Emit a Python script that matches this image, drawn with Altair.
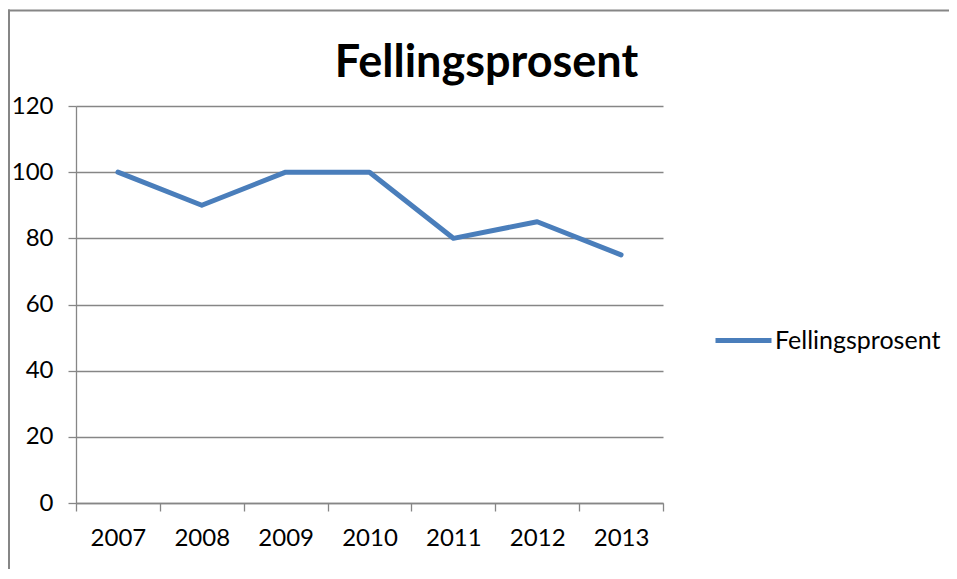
import altair as alt
import pandas as pd

years = ["2007", "2008", "2009", "2010", "2011", "2012", "2013"]
values = [100, 90, 100, 100, 80, 85, 75]
series_name = "Fellingsprosent"
y_ticks = [0, 20, 40, 60, 80, 100, 120]
title_text = "Fellingsprosent"

df = pd.DataFrame({"year": years, "value": values, "series": [series_name] * len(years)})

GRAY = "#868686"
FONT = "Lato"

line = alt.Chart(df).mark_line(strokeWidth=5, strokeCap="round", strokeJoin="round").encode(
    x=alt.X(
        "year:O",
        bandPosition=0.5,
        scale=alt.Scale(type="band", paddingInner=0, paddingOuter=0),
        axis=alt.Axis(
            title=None, labelAngle=0, tickBand="extent", grid=False,
            domainColor=GRAY, tickColor=GRAY, tickSize=8, domainWidth=1.3, tickWidth=1.3,
            labelFont=FONT, labelFontSize=24, labelColor="black", labelPadding=15,
        ),
    ),
    y=alt.Y(
        "value:Q",
        scale=alt.Scale(domain=[0, 120], nice=False),
        axis=alt.Axis(
            title=None, values=y_ticks, grid=True, gridColor=GRAY, gridWidth=1.3,
            domainColor=GRAY, tickColor=GRAY, tickSize=8, domainWidth=1.3, tickWidth=1.3,
            labelFont=FONT, labelFontSize=24, labelColor="black", labelPadding=15,
        ),
    ),
    color=alt.Color(
        "series:N",
        scale=alt.Scale(range=["#4a7ebb"]),
        legend=alt.Legend(
            title=None, orient="none", legendX=637, legendY=204,
            symbolType="stroke", symbolSize=3136, symbolStrokeWidth=5,
            labelFont=FONT, labelFontSize=25, labelColor="black", labelOffset=1,
            labelLimit=400,
        ),
    ),
)

border_top = alt.Chart(alt.Data(values=[{}])).mark_rect(color=GRAY, strokeWidth=0).encode(
    x=alt.value(-68), x2=alt.value(1200), y=alt.value(-96.5), y2=alt.value(-94.5)
)
border_left = alt.Chart(alt.Data(values=[{}])).mark_rect(color=GRAY, strokeWidth=0).encode(
    x=alt.value(-68), x2=alt.value(-66), y=alt.value(-96.5), y2=alt.value(900)
)

title = alt.Chart(alt.Data(values=[{"t": title_text}])).mark_text(
    font=FONT, fontWeight="bold", fontSize=45, align="center", baseline="alphabetic", color="black"
).encode(text="t:N", x=alt.value(410.5), y=alt.value(-29))

chart = alt.layer(border_top, border_left, line, title).properties(
    width=587,
    height=397,
    autosize=alt.AutoSizeParams(type="none"),
    padding={"left": 68, "top": 98, "right": 286, "bottom": 66},
).configure_view(strokeWidth=0)

chart.save("out.html", embed_options={"renderer": "svg", "actions": False})
